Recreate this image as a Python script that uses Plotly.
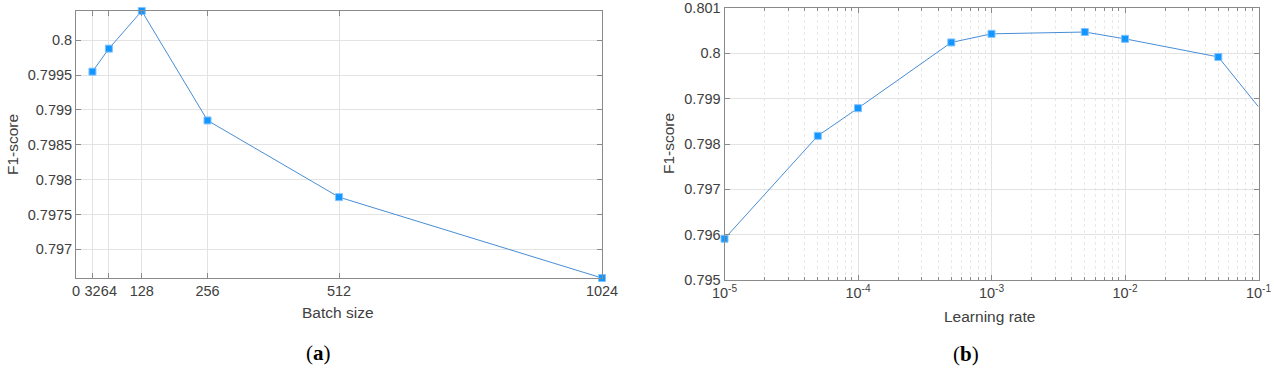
import plotly.graph_objects as go

W, H = 1274, 370

# (a) F1-score vs batch size
batch_sizes = [32, 64, 128, 256, 512, 1024]
f1_batch = [0.79955, 0.79988, 0.80042, 0.79885, 0.79775, 0.79659]
batch_ticks = [0, 32, 64, 128, 256, 512, 1024]
batch_yticks = [0.797, 0.7975, 0.798, 0.7985, 0.799, 0.7995, 0.8]

# (b) F1-score vs learning rate
learning_rates = [1e-5, 5e-5, 1e-4, 5e-4, 1e-3, 5e-3, 1e-2, 5e-2, 1e-1]
f1_lr = [0.79591, 0.79818, 0.79879, 0.80024, 0.80043, 0.80047, 0.80032, 0.79992, 0.79882]
lr_ticks = [1e-5, 1e-4, 1e-3, 1e-2, 1e-1]
lr_ticktext = ["10<sup>-5</sup>", "10<sup>-4</sup>", "10<sup>-3</sup>", "10<sup>-2</sup>", "10<sup>-1</sup>"]
lr_yticks = [0.795, 0.796, 0.797, 0.798, 0.799, 0.8, 0.801]


def px(x):
    return x / W


def py(y):
    return (H - y) / H


line_color = "rgb(72,141,214)"
marker = dict(symbol="square", size=7, color="rgb(20,150,255)",
              line=dict(color="rgb(130,195,255)", width=1))
font = "Liberation Sans, Arial, Helvetica, sans-serif"
txt = "#404040"
axis_col = "#8a8a8a"
grid_col = "#e3e3e3"

fig = go.Figure()
fig.add_trace(go.Scatter(x=batch_sizes, y=f1_batch, mode="lines+markers",
                         line=dict(color=line_color, width=1), marker=marker,
                         cliponaxis=False, xaxis="x", yaxis="y", showlegend=False))
fig.add_trace(go.Scatter(x=learning_rates, y=f1_lr, mode="lines+markers",
                         line=dict(color=line_color, width=1), marker=marker,
                         cliponaxis=False, xaxis="x2", yaxis="y2", showlegend=False))

common = dict(showline=True, linecolor=axis_col, linewidth=1, mirror="ticks",
              ticks="inside", ticklen=5, tickcolor=axis_col, showgrid=True,
              gridcolor=grid_col, gridwidth=1, zeroline=False, automargin=False,
              tickangle=0, tickfont=dict(family=font, size=14.5, color=txt))

fig.update_layout(
    width=W, height=H,
    margin=dict(l=0, r=0, t=0, b=0),
    plot_bgcolor="white", paper_bgcolor="white",
    xaxis=dict(domain=[px(76), px(602)], anchor="y", range=[0, 1024],
               tickvals=batch_ticks, ticktext=[str(v) for v in batch_ticks], **common),
    yaxis=dict(domain=[py(278), py(11)], anchor="x",
               range=[min(f1_batch), max(f1_batch)],
               tickvals=batch_yticks, ticktext=[f"{v:g}" for v in batch_yticks], **common),
    xaxis2=dict(domain=[px(724.5), px(1258.5)], anchor="y2", type="log", range=[-5, -1],
                tickvals=lr_ticks, ticktext=lr_ticktext,
                minor=dict(dtick="D1", ticks="inside", ticklen=3, tickcolor=axis_col,
                           showgrid=True, gridcolor="#e8e8e8", griddash="dot"),
                **common),
    yaxis2=dict(domain=[py(280), py(8)], anchor="x2", range=[0.795, 0.801],
                tickvals=lr_yticks, ticktext=[f"{v:g}" for v in lr_yticks], **common),
)

ann = [
    ("Batch size", 338, 312, 15.5, font, txt, 0),
    ("Learning rate", 989, 316, 15.5, font, txt, 0),
    ("F1-score", 12, 145, 15.5, font, txt, -90),
    ("F1-score", 668, 144, 15.5, font, txt, -90),
    ("(<b>a</b>)", 318, 353, 21, "Liberation Serif, Times New Roman, serif", "black", 0),
    ("(<b>b</b>)", 966, 354, 21, "Liberation Serif, Times New Roman, serif", "black", 0),
]
for text, x, y, size, fam, col, ang in ann:
    fig.add_annotation(text=text, x=px(x), y=py(y), xref="paper", yref="paper",
                       showarrow=False, textangle=ang, xanchor="center", yanchor="middle",
                       font=dict(family=fam, size=size, color=col))

# the page's default body margin shifts the fixed-size figure; remove it
fig.write_html("out.html", config={"displayModeBar": False},
               post_script="document.body.style.margin='0';")
